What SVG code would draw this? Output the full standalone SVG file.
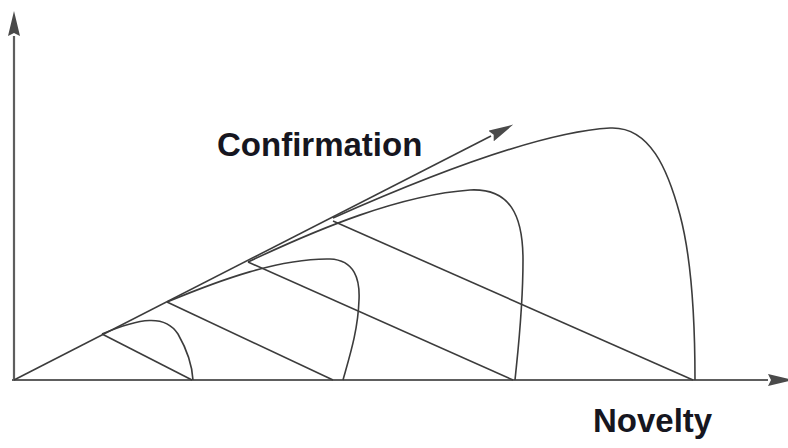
<svg xmlns="http://www.w3.org/2000/svg" width="788" height="448" viewBox="0 0 788 448">
<style>
.axis{stroke:#5e5e5e;stroke-width:2.2;fill:none}
.curve{stroke:#3c3c3c;stroke-width:1.6;fill:none}
.label{font-family:"Liberation Sans",Arial,sans-serif;font-weight:bold;font-size:33px;fill:#161620}
</style>
<defs>
<marker id="ah" viewBox="0 0 25 12" refX="0" refY="6" markerWidth="25" markerHeight="12" markerUnits="userSpaceOnUse" orient="auto">
<path d="M0,0 L25,6 L0,12 L3,6 z" fill="#4a4a4a"/>
</marker>
</defs>
<rect width="788" height="448" fill="#ffffff"/>
<g id="axes">
<line class="axis" x1="14" y1="381" x2="14" y2="36" marker-end="url(#ah)"/>
<line class="axis" x1="12" y1="380" x2="768" y2="380" marker-end="url(#ah)"/>
</g>
<g id="connectors">
<line id="confirmation-line" class="curve" x1="14" y1="380" x2="491" y2="136" marker-end="url(#ah)"/>
<path id="curve1" class="curve" d="M102,334 C140,318 165,314 178,334 C186,348 192,362 193,380"/>
<line id="line1" class="curve" x1="102" y1="334" x2="192" y2="380"/>
<path id="curve2" class="curve" d="M167,302 C220,280 280,258 330,259 C355,260 360,280 359,300 C358,330 350,355 343,380"/>
<line id="line2" class="curve" x1="167" y1="302" x2="333" y2="380"/>
<path id="curve3" class="curve" d="M248,262 C320,228 400,195 470,190 C510,188 523,215 523,260 C523,310 518,350 515,380"/>
<line id="line3" class="curve" x1="248" y1="262" x2="513" y2="380"/>
<path id="curve4" class="curve" d="M333,218 C430,175 540,132 610,128 C650,126 668,170 680,215 C692,260 695,320 695,380"/>
<line id="line4" class="curve" x1="333" y1="221" x2="693" y2="380"/>
</g>
<g id="label-confirmation"><text class="label" x="217" y="156">Confirmation</text></g>
<g id="label-novelty"><text class="label" x="593" y="432">Novelty</text></g>
</svg>
